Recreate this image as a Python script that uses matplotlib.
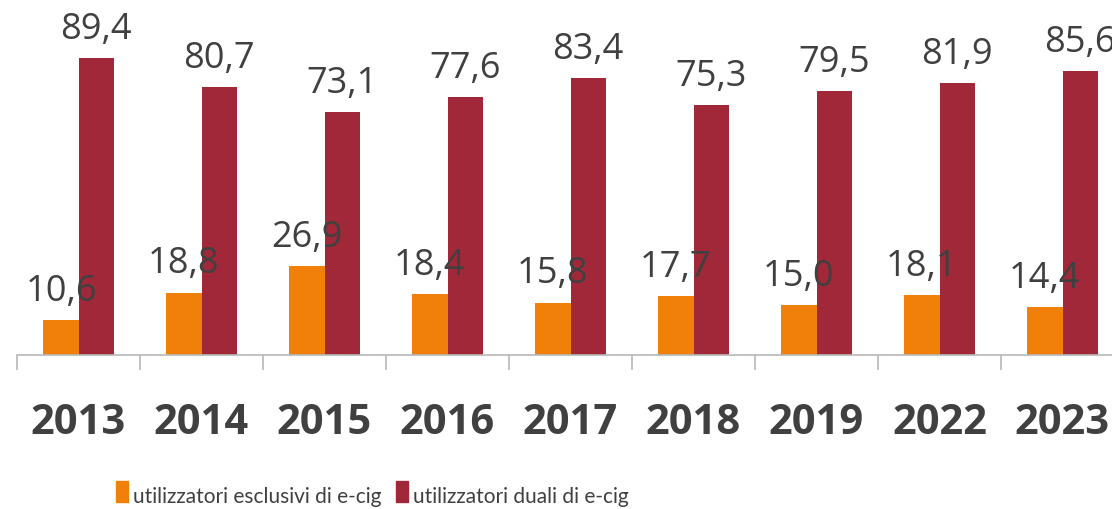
import numpy as np
import matplotlib.pyplot as plt
from matplotlib.ticker import FixedLocator

years = ['2013', '2014', '2015', '2016', '2017', '2018', '2019', '2022', '2023']
esclusivi = [10.6, 18.8, 26.9, 18.4, 15.8, 17.7, 15.0, 18.1, 14.4]
duali = [89.4, 80.7, 73.1, 77.6, 83.4, 75.3, 79.5, 81.9, 85.6]

col_esc = '#F0800A'
col_dua = '#A02838'
txt_col = '#404040'
axis_col = '#B8B8B8'

plt.rcParams['font.family'] = ['Open Sans', 'DejaVu Sans']

fig = plt.figure(figsize=(11.12, 5.10), dpi=100)
# plot area runs past the right/top edge (the source image is cropped)
ax = fig.add_axes([17 / 1112, 154 / 510, 1107 / 1112, 356 / 510])

x = np.arange(len(years))
w = 0.285
b1 = ax.bar(x - w / 2, esclusivi, w, color=col_esc)
b2 = ax.bar(x + w / 2, duali, w, color=col_dua)

for bars, vals in ((b1, esclusivi), (b2, duali)):
    for r, v in zip(bars, vals):
        ax.annotate(f'{v:.1f}'.replace('.', ','),
                    (r.get_x() + r.get_width() / 2, v),
                    xytext=(0, 14.5), textcoords='offset points',
                    ha='center', va='baseline', fontsize=26, color=txt_col)

ax.set_xlim(-0.5, len(years) - 0.5)
ax.set_ylim(0, 107.2)
ax.set_yticks([])
for s in ('left', 'right', 'top'):
    ax.spines[s].set_visible(False)
ax.spines['bottom'].set_color(axis_col)
ax.spines['bottom'].set_linewidth(1.2)

ax.set_xticks(x)
ax.set_xticklabels(years, fontsize=30, fontweight='bold', color=txt_col)
ax.tick_params(axis='x', which='major', length=0, pad=33.5)
ax.xaxis.set_minor_locator(FixedLocator(np.arange(-0.5, len(years), 1.0)))
ax.tick_params(axis='x', which='minor', length=11, width=1.2,
               color=axis_col, direction='out')

# legend drawn by hand to sit on the bottom edge like the original
leg_font = ['Lato', 'DejaVu Sans']
fig.patches.append(plt.Rectangle((116 / 1112, 7 / 510), 12 / 1112, 21 / 510,
                                 transform=fig.transFigure, color=col_esc))
fig.text(133 / 1112, 7 / 510, 'utilizzatori esclusivi di e-cig',
         fontsize=15, color=txt_col, va='baseline', ha='left', family=leg_font)
fig.patches.append(plt.Rectangle((396 / 1112, 7 / 510), 12 / 1112, 21 / 510,
                                 transform=fig.transFigure, color=col_dua))
fig.text(413 / 1112, 7 / 510, 'utilizzatori duali di e-cig',
         fontsize=15, color=txt_col, va='baseline', ha='left', family=leg_font)

fig.savefig('out.png', dpi=100)
